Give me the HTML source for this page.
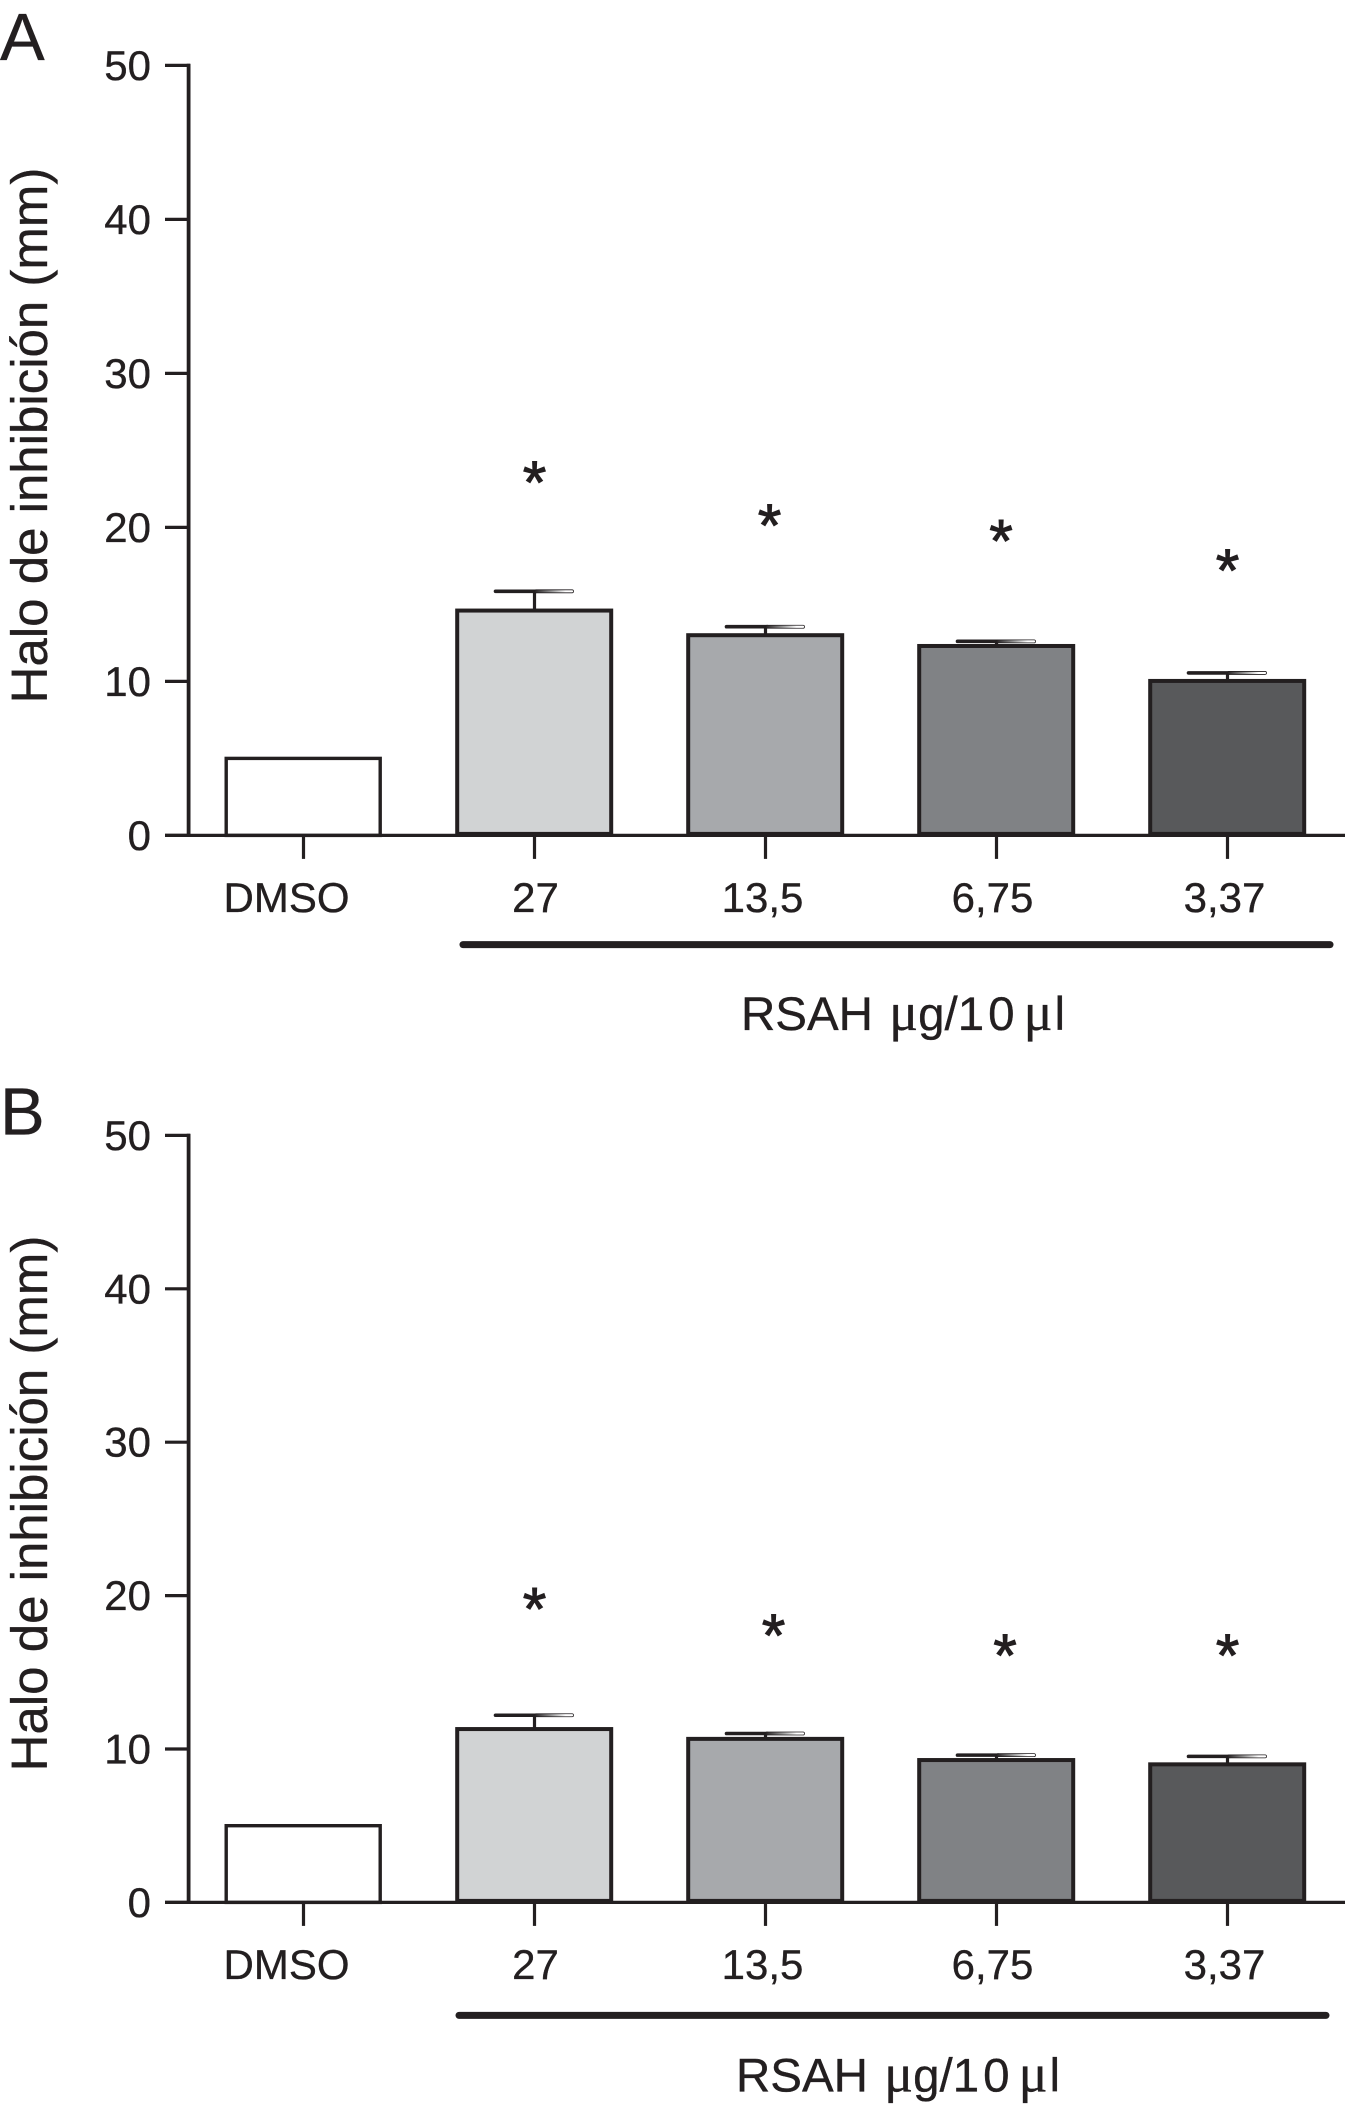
<!DOCTYPE html>
<html>
<head>
<meta charset="utf-8">
<title>Halo de inhibición</title>
<style>
html,body{margin:0;padding:0;background:#fff;}
svg{display:block;}
text{font-family:"Liberation Sans",sans-serif;fill:#231f20;stroke:#231f20;stroke-width:0.35px;}
</style>
</head>
<body>
<svg id="chart" xmlns="http://www.w3.org/2000/svg" width="1345" height="2106" viewBox="0 0 1345 2106">
  <defs>
    <linearGradient id="capFade" x1="0" x2="1" y1="0" y2="0">
      <stop offset="0" stop-color="#231f20"/>
      <stop offset="0.45" stop-color="#9a9a9a"/>
      <stop offset="0.8" stop-color="#ffffff"/>
    </linearGradient>
  </defs>
</svg>
<script>
var categories = ["DMSO", "27", "13,5", "6,75", "3,37"];
var yTickValues = [0, 10, 20, 30, 40, 50];
var barFills = ["#ffffff", "#d1d3d4", "#a7a9ac", "#808285", "#58595b"];

var panelAValues = [5.0, 14.6, 13.0, 12.3, 10.03];
var panelAErrors = [0, 1.25, 0.55, 0.3, 0.52];
var panelASignificance = [null, 23.4, 20.6, 19.6, 17.7];

var panelBValues = [5.0, 11.3, 10.66, 9.28, 9.0];
var panelBErrors = [0, 0.9, 0.35, 0.32, 0.52];
var panelBSignificance = [null, 19.6, 17.9, 16.6, 16.6];

var NS = "http://www.w3.org/2000/svg";
var svg = document.getElementById("chart");
var INK = "#231f20";

function make(tag, parent) {
  var el = document.createElementNS(NS, tag);
  parent.appendChild(el);
  return el;
}
function line(parent, x1, y1, x2, y2, w, cap) {
  var el = make("line", parent);
  el.setAttribute("x1", x1);
  el.setAttribute("y1", y1);
  el.setAttribute("x2", x2);
  el.setAttribute("y2", y2);
  el.setAttribute("stroke", INK);
  el.setAttribute("stroke-width", w);
  if (cap) el.setAttribute("stroke-linecap", cap);
  return el;
}
function label(parent, x, y, size, str, anchor) {
  var el = make("text", parent);
  el.setAttribute("x", x);
  el.setAttribute("y", y);
  el.setAttribute("font-size", size);
  el.setAttribute("text-anchor", anchor || "middle");
  el.textContent = str;
  return el;
}

function drawPanel(p) {
  var group = make("g", svg);
  
  

  function yScale(v) { return p.y0 - v * p.unit; }
  function xScale(i) { return 303.5 + i * 231; }
  var barWidth = 154;
  var labelNudge = [-17, 1, -3, -4, -3];
  var starNudge = p.starNudge;

  var letter = label(group, p.letterX, p.letterY, 67, p.id, "start");
  
  

  var title = label(group, 0, 0, 51, "Halo de inhibición (mm)");
  title.setAttribute("transform", "translate(47 " + p.titleY + ") rotate(-90)");
  
  

  yTickValues.forEach(function (t) {
    var y = yScale(t);
    var tick = line(group, 165, y, 190, y, 3.2);
    
    
    var tl = label(group, 151, y + 14.5, 42, String(t), "end");
    
    
  });

  var yAxis = line(group, 188.6, yScale(50) - 1.6, 188.6, p.y0 + 1.6, 3.8);
  
  

  p.values.forEach(function (v, i) {
    var cx = xScale(i) - 0.3;
    var err = p.errors[i];
    if (err > 0) {
      var top = yScale(v + err);
      var stem = line(group, xScale(i), top, xScale(i), yScale(v), 3.2);
      
      
      var capLeft = line(group, xScale(i) - 39, top, xScale(i) + 2, top, 3.6, "round");
      
      
      var capRight = make("rect", group);
      capRight.setAttribute("x", xScale(i));
      capRight.setAttribute("y", top - 1.5);
      capRight.setAttribute("width", 39);
      capRight.setAttribute("height", 3);
      capRight.setAttribute("rx", 1.4);
      capRight.setAttribute("fill", "url(#capFade)");
      capRight.setAttribute("stroke", INK);
      capRight.setAttribute("stroke-width", 0.8);
      
      
    }
    var bar = make("rect", group);
    bar.setAttribute("x", cx - barWidth / 2);
    bar.setAttribute("y", yScale(v));
    bar.setAttribute("width", barWidth);
    bar.setAttribute("height", p.y0 - yScale(v) - (i === 0 ? 0 : 1.5));
    bar.setAttribute("fill", barFills[i]);
    bar.setAttribute("stroke", INK);
    bar.setAttribute("stroke-width", i === 0 ? 3.4 : 4);
    
    
  });

  var xAxis = line(group, 165, p.y0, 1345, p.y0, 3.2);
  
  

  categories.forEach(function (c, i) {
    var tick = line(group, xScale(i), p.y0, xScale(i), p.y0 + 23.5, 3.2);
    
    
    var tl = label(group, xScale(i) + labelNudge[i], p.labelY, 42, c);
    
    
    var s = p.stars[i];
    if (s !== null) {
      var star = label(group, xScale(i) + starNudge[i], yScale(s) + 28, 60, "*");
      star.setAttribute("style", "stroke-width:1.1px");
      
      
    }
  });

  var bracket = line(group, p.barX1, p.barY, p.barX2, p.barY, 7, "round");
  
  

  var dose = make("text", group);
  dose.setAttribute("x", p.doseX);
  dose.setAttribute("y", p.doseY);
  dose.setAttribute("font-size", 47.5);
  
  
  var t1 = make("tspan", dose);
  t1.textContent = "RSAH ";
  var t2 = make("tspan", dose);
  t2.setAttribute("dx", 3);
  t2.setAttribute("style", "font-family:'Liberation Serif',serif;font-size:54px");
  t2.textContent = "μ";
  var t3 = make("tspan", dose);
  t3.textContent = "g/1";
  var t4 = make("tspan", dose);
  t4.setAttribute("dx", 4);
  t4.textContent = "0";
  var t5 = make("tspan", dose);
  t5.setAttribute("dx", 9);
  t5.setAttribute("style", "font-family:'Liberation Serif',serif;font-size:54px");
  t5.textContent = "μ";
  var t6 = make("tspan", dose);
  t6.setAttribute("dx", 2);
  t6.textContent = "l";
}

drawPanel({
  id: "A", y0: 835.4, unit: 15.4,
  values: panelAValues, errors: panelAErrors, stars: panelASignificance,
  starNudge: [0, 0, 4, 4.5, 0],
  letterX: 0, letterY: 60, titleY: 435.5, labelY: 912,
  barX1: 463, barX2: 1330, barY: 944.6, doseX: 741, doseY: 1030
});
drawPanel({
  id: "B", y0: 1902.4, unit: 15.34,
  values: panelBValues, errors: panelBErrors, stars: panelBSignificance,
  starNudge: [0, 0, 8, 8.5, 0],
  letterX: 0, letterY: 1134.7, titleY: 1503.5, labelY: 1979,
  barX1: 459, barX2: 1326, barY: 2015.4, doseX: 736, doseY: 2091.7
});
</script>
</body>
</html>
